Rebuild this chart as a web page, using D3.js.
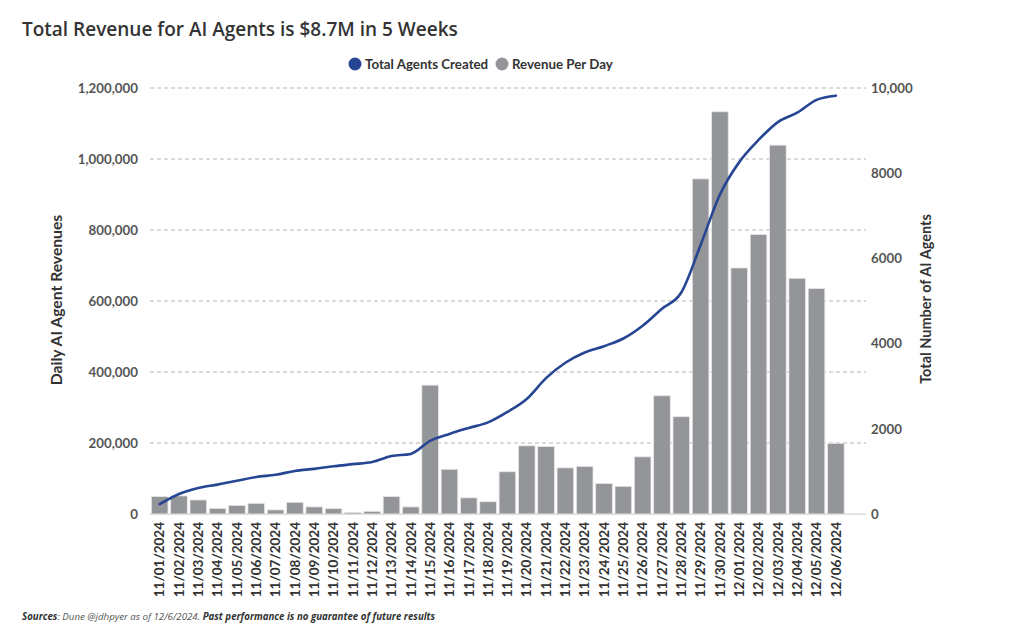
<!DOCTYPE html>
<html>
<head>
<meta charset="utf-8">
<script src="https://cdn.jsdelivr.net/npm/d3@7"></script>
<style>
  html, body { margin: 0; padding: 0; background: #fff; }
  svg { display: block; }
</style>
</head>
<body>
<svg id="chart" width="1024" height="635"></svg>
<script>
const dates = ["11/01/2024","11/02/2024","11/03/2024","11/04/2024","11/05/2024","11/06/2024","11/07/2024","11/08/2024","11/09/2024","11/10/2024","11/11/2024","11/12/2024","11/13/2024","11/14/2024","11/15/2024","11/16/2024","11/17/2024","11/18/2024","11/19/2024","11/20/2024","11/21/2024","11/22/2024","11/23/2024","11/24/2024","11/25/2024","11/26/2024","11/27/2024","11/28/2024","11/29/2024","11/30/2024","12/01/2024","12/02/2024","12/03/2024","12/04/2024","12/05/2024","12/06/2024"];
const revenuePerDay = [49000,51000,39500,16000,24000,30000,11500,33000,20000,15000,4500,7500,49000,20000,363000,126000,45500,34500,119000,192000,190000,130000,134000,86000,78000,161000,333000,274000,944000,1133000,693000,787000,1039000,664000,635000,199000];
const totalAgents = [230,470,610,690,780,870,920,1010,1060,1120,1170,1220,1360,1410,1715,1880,2020,2150,2395,2700,3190,3550,3790,3940,4120,4420,4820,5200,6315,7500,8260,8780,9200,9420,9720,9820];
const leftTicks = [0,200000,400000,600000,800000,1000000,1200000];
const rightTicks = [0,2000,4000,6000,8000,10000];
const rightTickLabels = ["0","2000","4000","6000","8000","10,000"];

const svg = d3.select("#chart");
const plotTop = 88, plotBottom = 514, plotLeft = 150, plotRight = 845.5, gridRight = 866;
const font = "Lato, 'Open Sans', sans-serif";

const x = d3.scaleBand().domain(dates).range([plotLeft, plotRight]).paddingInner(0.14).paddingOuter(0.07);
const yL = d3.scaleLinear().domain([0, 1200000]).range([plotBottom, plotTop]);
const yR = d3.scaleLinear().domain([0, 10000]).range([plotBottom, plotTop]);

// Title
svg.append("text").attr("x", 22).attr("y", 36)
  .attr("font-family", "'Open Sans', sans-serif").attr("font-weight", 600)
  .attr("font-size", 19).attr("fill", "#333")
  .text("Total Revenue for AI Agents is $8.7M in 5 Weeks");

// Legend
const legend = [{label:"Total Agents Created", color:"#264693", cx:355, tx:365},
                {label:"Revenue Per Day", color:"#939598", cx:502, tx:512}];
legend.forEach(l => {
  svg.append("circle").attr("cx", l.cx).attr("cy", 64).attr("r", 6.5).attr("fill", l.color);
  svg.append("text").attr("x", l.tx).attr("y", 69).attr("font-family", font)
    .attr("font-weight", 700).attr("font-size", 13.3).attr("fill", "#333").text(l.label);
});

// Gridlines
svg.append("g").selectAll("line").data(leftTicks.filter(d => d > 0)).join("line")
  .attr("x1", plotLeft).attr("x2", gridRight)
  .attr("y1", d => yL(d)).attr("y2", d => yL(d))
  .attr("stroke", "#b5b5b5").attr("stroke-width", 1).attr("stroke-dasharray", "4,3");

// Left axis
const gL = svg.append("g").attr("transform", `translate(${plotLeft - 12},0)`)
  .call(d3.axisLeft(yL).tickValues(leftTicks).tickSize(0).tickPadding(0).tickFormat(d3.format(",")));
gL.select(".domain").remove();
gL.selectAll("text").attr("font-family", font).attr("font-weight", 700)
  .attr("font-size", 13.3).attr("fill", "#555");

// Right axis
const gR = svg.append("g").attr("transform", `translate(${gridRight + 5},0)`)
  .call(d3.axisRight(yR).tickValues(rightTicks).tickSize(0).tickPadding(0)
    .tickFormat((d, i) => rightTickLabels[i]));
gR.select(".domain").remove();
gR.selectAll("text").attr("font-family", font).attr("font-weight", 700)
  .attr("font-size", 13.3).attr("fill", "#555");

// Bars
svg.append("g").selectAll("rect").data(revenuePerDay).join("rect")
  .attr("x", (d, i) => x(dates[i]))
  .attr("width", x.bandwidth())
  .attr("y", d => yL(d))
  .attr("height", d => plotBottom - yL(d))
  .attr("fill", "#939598").attr("stroke", "#e6e6e6").attr("stroke-width", 0.8);

// Baseline
svg.append("line").attr("x1", plotLeft).attr("x2", gridRight)
  .attr("y1", plotBottom).attr("y2", plotBottom).attr("stroke", "#c8c8c8").attr("stroke-width", 1);

// Line
const line = d3.line()
  .x((d, i) => x(dates[i]) + x.bandwidth() / 2)
  .y(d => yR(d))
  .curve(d3.curveMonotoneX);
svg.append("path").datum(totalAgents).attr("d", line)
  .attr("fill", "none").attr("stroke", "#264693").attr("stroke-width", 2.6)
  .attr("stroke-linejoin", "round").attr("stroke-linecap", "round");

// X axis labels
const gX = svg.append("g").attr("transform", `translate(0,${plotBottom + 8})`)
  .call(d3.axisBottom(x).tickSize(0).tickPadding(0));
gX.select(".domain").remove();
gX.selectAll("text")
  .attr("transform", "rotate(-90)")
  .attr("text-anchor", "end")
  .attr("x", 0).attr("y", 0).attr("dx", 0).attr("dy", "0.35em")
  .attr("font-family", font).attr("font-weight", 700)
  .attr("font-size", 13.5).attr("fill", "#333");

// Axis titles
svg.append("text").attr("transform", `translate(62,300) rotate(-90)`)
  .attr("text-anchor", "middle").attr("font-family", font).attr("font-weight", 700)
  .attr("font-size", 15.7).attr("fill", "#333").text("Daily AI Agent Revenues");
svg.append("text").attr("transform", `translate(931,299) rotate(-90)`)
  .attr("text-anchor", "middle").attr("font-family", font).attr("font-weight", 700)
  .attr("font-size", 14.5).attr("fill", "#333").text("Total Number of AI Agents");

// Footer
const foot = svg.append("text").attr("x", 22).attr("y", 620)
  .attr("font-family", "'Open Sans', sans-serif").attr("font-size", 9.7)
  .attr("font-style", "italic").attr("fill", "#333");
foot.append("tspan").attr("font-weight", 700).text("Sources");
foot.append("tspan").attr("fill", "#555").text(": Dune @jdhpyer as of 12/6/2024. ");
foot.append("tspan").attr("font-weight", 700).text("Past performance is no guarantee of future results");
</script>
</body>
</html>
